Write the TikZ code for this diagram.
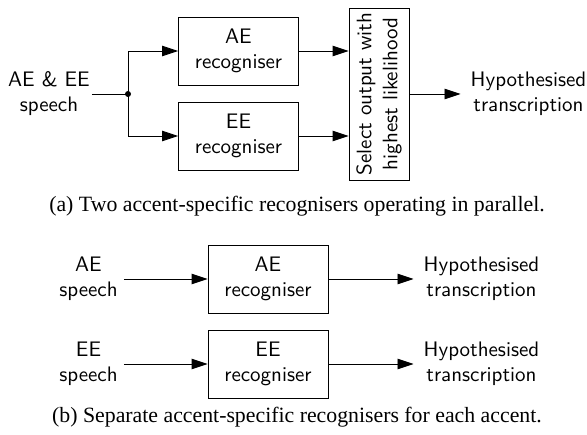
\documentclass[tikz,border=0pt]{standalone}
\usepackage{fontspec}
\setmainfont{Liberation Serif}
\setsansfont{lmsans10-regular.otf}
\usetikzlibrary{positioning}
\usetikzlibrary{arrows.meta}
\tikzset{
    recog/.style = {rectangle, draw=black, line width=0.9pt, minimum width=120pt, minimum height=68pt, align=center, font=\sffamily\fontsize{21}{25}\selectfont},
    selbox/.style = {rectangle, draw=black, line width=0.9pt, rotate=90, minimum width=172pt, minimum height=60pt, inner sep=1pt, align=center, font=\sffamily\fontsize{21}{26}\selectfont},
    txt/.style = {align=center, inner sep=2pt, font=\sffamily\fontsize{21}{25}\selectfont},
    capt/.style = {anchor=base, inner sep=0pt, font=\fontsize{21.8}{24}\selectfont},
    edgen/.style = {-{Triangle[length=16pt,width=10.5pt]}, line width=0.9pt},
    edgep/.style = {line width=0.9pt}, % plain line
}

\begin{document}
\begin{tikzpicture}[x=1pt, y=-1pt]
  \useasboundingbox (0,0) rectangle (587,435);

  % (a) parallel recognisers
  \node[txt] (inab) at (49,94) {AE \& EE\\speech};
  \coordinate (split) at (128,94);
  \node[recog] (aer) at (238.5,51) {AE\\recogniser};
  \node[recog] (eer) at (238.5,136) {EE\\recogniser};
  \node[selbox] (sel) at (379,94) {Select output with\\highest likelihood};
  \node[txt] (hypa) at (528.5,94) {Hypothesised\\transcription};
  \node[capt] (capa) at (297,212) {(a) Two accent-specific recognisers operating in parallel.};

  \draw[edgep] (inab.east) -- (split);
  \fill (split) circle (3pt);
  \draw[edgen] (split) |- (aer.west);
  \draw[edgen] (split) |- (eer.west);
  \draw[edgen] (aer.east) -- (aer.east -| sel.north);
  \draw[edgen] (eer.east) -- (eer.east -| sel.north);
  \draw[edgen, shorten >=8pt] (sel.south) -- (hypa.west);

  % (b) separate recognisers
  \node[txt] (inae) at (88.5,279) {AE\\speech};
  \node[recog] (aeb) at (268,279) {AE\\recogniser};
  \node[txt] (hypb) at (481.5,279) {Hypothesised\\transcription};
  \node[txt] (inee) at (88.5,364) {EE\\speech};
  \node[recog] (eeb) at (268,364) {EE\\recogniser};
  \node[txt] (hypc) at (481.5,364) {Hypothesised\\transcription};
  \node[capt] (capb) at (297,423) {(b) Separate accent-specific recognisers for each accent.};

  \draw[edgen, shorten <=4pt] (inae.east) -- (aeb.west);
  \draw[edgen, shorten >=8pt] (aeb.east) -- (hypb.west);
  \draw[edgen, shorten <=4pt] (inee.east) -- (eeb.west);
  \draw[edgen, shorten >=8pt] (eeb.east) -- (hypc.west);
\end{tikzpicture}
\end{document}
